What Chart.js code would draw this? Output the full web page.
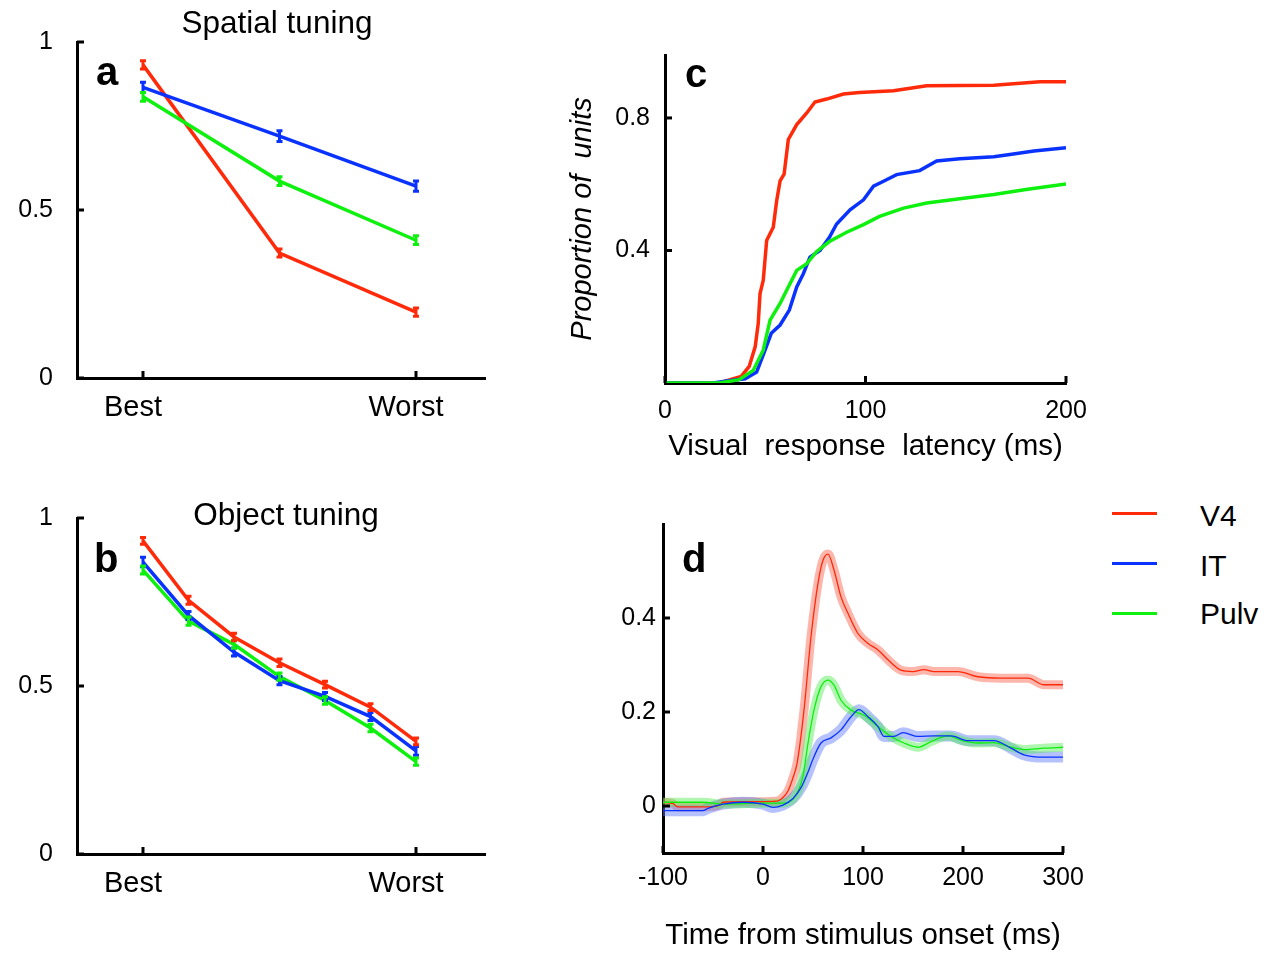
<!DOCTYPE html>
<html>
<head>
<meta charset="utf-8">
<script src="https://cdn.jsdelivr.net/npm/chart.js@4.4.0/dist/chart.umd.min.js"></script>
<style>
  html, body { margin: 0; padding: 0; background: #fff; }
  body { width: 1280px; height: 955px; position: relative; overflow: hidden; font-family: "Liberation Sans", Arial, sans-serif; color: #000; }
  canvas { position: absolute; }
  .txt { position: absolute; line-height: 1; white-space: pre; }
  .letter { font-weight: bold; font-size: 40px; }
  .ttl { font-size: 31.5px; transform: translateX(-50%); }
  .leg { font-size: 30px; }
  .legline { position: absolute; height: 3px; width: 45px; }
</style>
</head>
<body>
<canvas id="ca" width="500" height="440" style="left:0px;top:0px"></canvas>
<canvas id="cb" width="500" height="440" style="left:0px;top:476px"></canvas>
<canvas id="cc" width="560" height="460" style="left:540px;top:20px"></canvas>
<canvas id="cd" width="560" height="455" style="left:540px;top:500px"></canvas>

<div class="txt ttl" style="left:277px;top:7px">Spatial tuning</div>
<div class="txt ttl" style="left:286px;top:499px">Object tuning</div>
<div class="txt letter" style="left:96px;top:51px">a</div>
<div class="txt letter" style="left:94px;top:538px">b</div>
<div class="txt letter" style="left:685px;top:53px">c</div>
<div class="txt letter" style="left:682px;top:538px">d</div>

<div class="legline" style="left:1112px;top:512px;background:rgb(255,42,10)"></div>
<div class="legline" style="left:1112px;top:562px;background:rgb(10,50,255)"></div>
<div class="legline" style="left:1112px;top:612px;background:rgb(14,240,14)"></div>
<div class="txt leg" style="left:1200px;top:501px">V4</div>
<div class="txt leg" style="left:1200px;top:551px">IT</div>
<div class="txt leg" style="left:1200px;top:599px">Pulv</div>

<script>
// ---------------- DATA ----------------
const regions = ['V4', 'IT', 'Pulv'];

// Panel a: spatial tuning (rank positions Best..Worst)
const aRanks = [1, 2, 3];
const aV4 = [0.932, 0.372, 0.196];
const aV4Err = [0.012, 0.012, 0.012];
const aIT = [0.865, 0.720, 0.571];
const aITErr = [0.015, 0.016, 0.015];
const aPulv = [0.837, 0.586, 0.410];
const aPulvErr = [0.013, 0.013, 0.013];

// Panel b: object tuning
const bRanks = [1, 2, 3, 4, 5, 6, 7];
const bV4 = [0.932, 0.755, 0.646, 0.569, 0.504, 0.437, 0.335];
const bV4Err = [0.010, 0.012, 0.011, 0.011, 0.010, 0.010, 0.010];
const bIT = [0.869, 0.710, 0.601, 0.516, 0.469, 0.409, 0.307];
const bITErr = [0.014, 0.012, 0.012, 0.012, 0.012, 0.012, 0.013];
const bPulv = [0.845, 0.693, 0.624, 0.528, 0.457, 0.375, 0.275];
const bPulvErr = [0.012, 0.012, 0.012, 0.011, 0.011, 0.011, 0.011];

const rankTickValues = [1, 3];
const rankTickValuesB = [1, 7];
const rankTickLabels = ['Best', 'Worst'];
const tuningYTicks = [0, 0.5, 1];

// Panel c: cumulative proportion of units vs visual response latency (ms)
const cV4Lat  = [0, 27, 38, 42, 45, 46.5, 47.4, 49, 50.7, 54, 55.7, 57.4, 59.4, 61.5, 65.7, 70.7, 74.8, 80.6, 89, 97, 114, 130.5, 164, 187, 200];
const cV4Prop = [0, 0, 0.02, 0.05, 0.11, 0.18, 0.27, 0.31, 0.43, 0.47, 0.55, 0.61, 0.63, 0.735, 0.78, 0.815, 0.848, 0.857, 0.872, 0.877, 0.882, 0.897, 0.899, 0.909, 0.909];
const cITLat  = [0, 24, 30.8, 40, 45.7, 49.9, 53, 57.4, 62, 65.7, 69, 72.3, 77.3, 82, 85.6, 92.3, 99, 104, 109, 115.5, 127, 135.5, 147, 164, 172, 184, 200];
const cITProp = [0, 0, 0.006, 0.013, 0.033, 0.099, 0.15, 0.175, 0.22, 0.29, 0.33, 0.38, 0.40, 0.44, 0.48, 0.523, 0.553, 0.594, 0.609, 0.629, 0.641, 0.67, 0.677, 0.683, 0.69, 0.70, 0.71];
const cPulvLat  = [0, 27, 37, 44, 49, 52.4, 57.4, 61.5, 65.7, 70.7, 75.7, 82, 90.6, 99, 107, 119, 130.5, 147, 164, 180, 200];
const cPulvProp = [0, 0, 0.01, 0.038, 0.099, 0.19, 0.24, 0.29, 0.34, 0.36, 0.397, 0.427, 0.455, 0.478, 0.503, 0.528, 0.543, 0.556, 0.569, 0.584, 0.601];
const cXTicks = [0, 100, 200];
const cYTicks = [0.4, 0.8];

// Panel d: response vs time from stimulus onset (ms)
const dV4Time = [-100, -90, -85, -60, -45, -40, -20, 0, 10, 15, 20, 25, 30, 34, 41, 48, 55, 60, 65, 71, 78, 85, 95, 105, 115, 125, 138, 150, 161, 171, 195, 215, 238, 265, 281, 300];
const dV4Resp = [0.008, 0.005, -0.002, -0.002, 0.001, 0.008, 0.009, 0.009, 0.010, 0.011, 0.018, 0.032, 0.060, 0.090, 0.204, 0.360, 0.474, 0.523, 0.536, 0.502, 0.445, 0.410, 0.367, 0.346, 0.332, 0.311, 0.289, 0.286, 0.290, 0.286, 0.286, 0.275, 0.272, 0.272, 0.258, 0.258];
const dITTime = [-100, -60, -55, -40, -20, 0, 10, 20, 30, 38, 45, 50, 58, 68, 78, 88, 96, 105, 115, 121, 131, 140, 155, 171, 188, 205, 231, 248, 261, 281, 300];
const dITResp = [-0.010, -0.010, -0.005, 0.004, 0.008, 0.004, -0.003, 0.002, 0.016, 0.039, 0.072, 0.100, 0.134, 0.145, 0.162, 0.190, 0.205, 0.190, 0.169, 0.148, 0.148, 0.156, 0.148, 0.149, 0.149, 0.139, 0.139, 0.123, 0.109, 0.104, 0.104];
const dPulvTime = [-100, -60, -40, 0, 20, 30, 35, 40, 45, 51, 58, 65, 71, 78, 88, 101, 115, 128, 141, 155, 168, 185, 198, 215, 231, 245, 261, 281, 300];
const dPulvResp = [0.008, 0.008, 0.004, 0.006, 0.006, 0.015, 0.032, 0.064, 0.134, 0.204, 0.254, 0.268, 0.257, 0.225, 0.204, 0.193, 0.169, 0.148, 0.134, 0.125, 0.137, 0.149, 0.140, 0.134, 0.135, 0.127, 0.120, 0.123, 0.125];
const dXTicks = [-100, 0, 100, 200, 300];
const dYTicks = [0, 0.2, 0.4];

// ---------------- STYLE ----------------
const RED = 'rgb(255,42,10)';
const BLUE = 'rgb(10,50,255)';
const GREEN = 'rgb(14,240,14)';
const RED_BAND = 'rgba(250,110,90,0.5)';
const BLUE_BAND = 'rgba(90,120,250,0.45)';
const GREEN_BAND = 'rgba(80,235,80,0.45)';

Chart.defaults.font.family = '"Liberation Sans", Arial, sans-serif';
Chart.defaults.color = '#000';

const zip = (xs, ys) => xs.map((x, i) => ({ x: x, y: ys[i] }));

const errorBars = {
  id: 'errorBars',
  afterDatasetsDraw(chart) {
    const ctx = chart.ctx;
    const xs = chart.scales.x, ys = chart.scales.y;
    chart.data.datasets.forEach(ds => {
      if (!ds.errors) return;
      ctx.save();
      ctx.strokeStyle = ds.borderColor;
      ctx.lineWidth = 3;
      ds.data.forEach((pt, j) => {
        const px = xs.getPixelForValue(pt.x);
        const t = ys.getPixelForValue(pt.y + ds.errors[j]);
        const b = ys.getPixelForValue(pt.y - ds.errors[j]);
        ctx.beginPath();
        ctx.moveTo(px, t); ctx.lineTo(px, b);
        ctx.moveTo(px - 3, t); ctx.lineTo(px + 3, t);
        ctx.moveTo(px - 3, b); ctx.lineTo(px + 3, b);
        ctx.stroke();
      });
      ctx.restore();
    });
  }
};

const inwardTicks = {
  id: 'inwardTicks',
  afterDraw(chart) {
    const { ctx, chartArea } = chart;
    ctx.save();
    ctx.strokeStyle = '#000';
    ctx.lineWidth = 3;
    Object.values(chart.scales).forEach(s => {
      s.ticks.forEach(t => {
        const p = s.getPixelForValue(t.value);
        ctx.beginPath();
        if (s.isHorizontal()) {
          ctx.moveTo(p, chartArea.bottom); ctx.lineTo(p, chartArea.bottom - 7);
        } else {
          ctx.moveTo(chartArea.left, p); ctx.lineTo(chartArea.left + 7, p);
        }
        ctx.stroke();
      });
    });
    ctx.restore();
  }
};

function setTicks(values) {
  return s => { s.ticks = values.map(v => ({ value: v })); };
}

function tuningChart(id, ranks, v4, v4e, it, ite, pu, pue, xmin, xmax, tickVals) {
  const line = (label, vals, errs, color) => ({
    label: label, data: zip(ranks, vals), errors: errs,
    borderColor: color, backgroundColor: color, borderWidth: 3.5,
    pointRadius: 0, tension: 0, fill: false
  });
  return new Chart(document.getElementById(id), {
    type: 'line',
    data: { datasets: [
      line(regions[1], it, ite, BLUE),
      line(regions[2], pu, pue, GREEN),
      line(regions[0], v4, v4e, RED)
    ] },
    options: {
      responsive: false, animation: false,
      layout: { padding: { top: 42, right: 15, left: 0, bottom: 0 } },
      plugins: { legend: { display: false }, tooltip: { enabled: false } },
      scales: {
        x: {
          type: 'linear', min: xmin, max: xmax,
          grid: { display: false, drawTicks: false },
          border: { display: true, color: '#000', width: 3 },
          afterBuildTicks: setTicks(tickVals),
          afterFit: s => { s.height = 62; },
          ticks: {
            font: { size: 29 }, padding: 13, maxRotation: 0, autoSkip: false, labelOffset: -10,
            callback: v => rankTickLabels[tickVals.indexOf(v)]
          }
        },
        y: {
          min: 0, max: 1,
          grid: { display: false, drawTicks: false },
          border: { display: true, color: '#000', width: 3 },
          afterBuildTicks: setTicks(tuningYTicks),
          afterFit: s => { s.width = 77; },
          ticks: { font: { size: 25 }, padding: 24, callback: v => String(v) }
        }
      }
    },
    plugins: [errorBars, inwardTicks]
  });
}

tuningChart('ca', aRanks, aV4, aV4Err, aIT, aITErr, aPulv, aPulvErr, 0.5165, 3.5055, rankTickValues);
tuningChart('cb', bRanks, bV4, bV4Err, bIT, bITErr, bPulv, bPulvErr, -0.4505, 8.5165, rankTickValuesB);

// Panel c
new Chart(document.getElementById('cc'), {
  type: 'line',
  data: { datasets: [
    { label: regions[2], data: zip(cPulvLat, cPulvProp), borderColor: GREEN, borderWidth: 3.5, pointRadius: 0, tension: 0 },
    { label: regions[1], data: zip(cITLat, cITProp), borderColor: BLUE, borderWidth: 3.5, pointRadius: 0, tension: 0 },
    { label: regions[0], data: zip(cV4Lat, cV4Prop), borderColor: RED, borderWidth: 3.5, pointRadius: 0, tension: 0 }
  ] },
  options: {
    responsive: false, animation: false,
    layout: { padding: { top: 35, right: 34, left: 0, bottom: 0 } },
    plugins: { legend: { display: false }, tooltip: { enabled: false } },
    scales: {
      x: {
        type: 'linear', min: 0, max: 200,
        grid: { display: false, drawTicks: false },
        border: { display: true, color: '#000', width: 3 },
        afterBuildTicks: setTicks(cXTicks),
        afterFit: s => { s.height = 97; },
        ticks: { font: { size: 25 }, padding: 13, maxRotation: 0, autoSkip: false, callback: v => String(v) },
        title: { display: true, text: 'Visual  response  latency (ms)', font: { size: 29.5 }, padding: { top: 0, bottom: 15 } }
      },
      y: {
        min: 0, max: 0.99,
        grid: { display: false, drawTicks: false },
        border: { display: true, color: '#000', width: 3 },
        afterBuildTicks: setTicks(cYTicks),
        afterFit: s => { s.width = 125; },
        ticks: { font: { size: 25 }, padding: 15, callback: v => String(v) },
        title: { display: true, text: 'Proportion of  units', font: { size: 29, style: 'italic' }, padding: { top: 26, bottom: 0 } }
      }
    }
  },
  plugins: [inwardTicks]
});

// Panel d
const band = (label, t, r, color, w, ord) => ({ label: label + ' sem', data: zip(t, r), borderColor: color, borderWidth: w, pointRadius: 0, cubicInterpolationMode: 'monotone', borderJoinStyle: 'round', borderCapStyle: 'butt', order: ord });
const trace = (label, t, r, color) => ({ label: label, data: zip(t, r), borderColor: color, borderWidth: 1.3, pointRadius: 0, cubicInterpolationMode: 'monotone', order: 0 });
new Chart(document.getElementById('cd'), {
  type: 'line',
  data: { datasets: [
    trace(regions[1], dITTime, dITResp, BLUE),
    trace(regions[2], dPulvTime, dPulvResp, GREEN),
    trace(regions[0], dV4Time, dV4Resp, RED),
    band(regions[2], dPulvTime, dPulvResp, GREEN_BAND, 9, 11),
    band(regions[1], dITTime, dITResp, BLUE_BAND, 11, 12),
    band(regions[0], dV4Time, dV4Resp, RED_BAND, 9, 13)
  ] },
  options: {
    responsive: false, animation: false,
    layout: { padding: { top: 24, right: 37, left: 0, bottom: 0 } },
    plugins: { legend: { display: false }, tooltip: { enabled: false } },
    scales: {
      x: {
        type: 'linear', min: -100, max: 300,
        grid: { display: false, drawTicks: false },
        border: { display: true, color: '#000', width: 3 },
        afterBuildTicks: setTicks(dXTicks),
        afterFit: s => { s.height = 102; },
        ticks: { font: { size: 25 }, padding: 10, maxRotation: 0, autoSkip: false, callback: v => String(v) },
        title: { display: true, text: 'Time from stimulus onset (ms)', font: { size: 29.5 }, padding: { top: 0, bottom: 1 } }
      },
      y: {
        min: -0.1, max: 0.6,
        grid: { display: false, drawTicks: false },
        border: { display: true, color: '#000', width: 3 },
        afterBuildTicks: setTicks(dYTicks),
        afterFit: s => { s.width = 123; },
        ticks: { font: { size: 25 }, padding: 7, callback: v => String(v) }
      }
    }
  },
  plugins: [inwardTicks]
});
</script>
</body>
</html>
